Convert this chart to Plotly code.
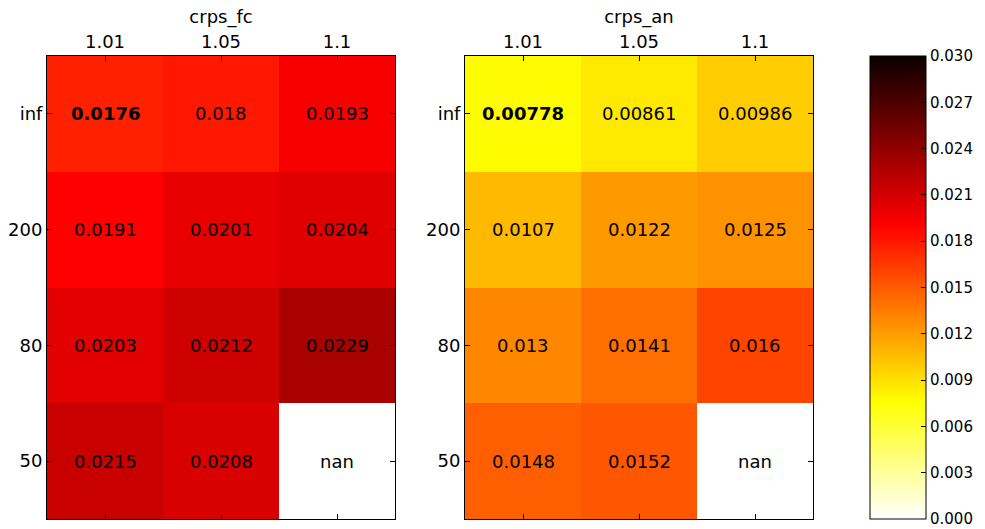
import plotly.graph_objects as go

# Inflation factors (columns) and localisation radii (rows)
inflation = ["1.01", "1.05", "1.1"]
radius = ["inf", "200", "80", "50"]

# CRPS of the forecast and the analysis, one row per localisation radius
crps_fc = [
    [0.0176, 0.0180, 0.0193],
    [0.0191, 0.0201, 0.0204],
    [0.0203, 0.0212, 0.0229],
    [0.0215, 0.0208, None],
]
crps_an = [
    [0.00778, 0.00861, 0.00986],
    [0.0107, 0.0122, 0.0125],
    [0.0130, 0.0141, 0.0160],
    [0.0148, 0.0152, None],
]

W, H = 985, 529
FONT = "DejaVu Sans"

# matplotlib "hot_r": white -> yellow -> red -> near black
hot_r = [
    [0.0, "rgb(255,255,255)"],
    [0.253968, "rgb(255,255,0)"],
    [0.634921, "rgb(255,0,0)"],
    [1.0, "rgb(11,0,0)"],
]

top, bottom = 56, 519
panels = [
    ("crps_fc", crps_fc, (47, 395)),
    ("crps_an", crps_an, (465, 813)),
]

fig = go.Figure()
layout = dict(
    width=W, height=H,
    margin=dict(l=0, r=0, t=0, b=0),
    paper_bgcolor="white", plot_bgcolor="white",
    font=dict(family=FONT, size=18, color="black"),
    showlegend=False,
)
annotations = []

for i, (name, z, (x0, x1)) in enumerate(panels):
    sfx = "" if i == 0 else str(i + 1)
    xa, ya = "x" + sfx, "y" + sfx
    fig.add_trace(go.Heatmap(
        z=z, x=list(range(len(inflation))), y=list(range(len(radius))),
        xaxis=xa, yaxis=ya,
        colorscale=hot_r, zmin=0, zmax=0.03,
        showscale=(i == 0),
        colorbar=dict(
            x=870 / W, xanchor="left", xpad=0,
            y=1 - top / H, yanchor="top", ypad=0,
            len=(bottom - top) / H, lenmode="fraction",
            thickness=56, thicknessmode="pixels",
            outlinecolor="black", outlinewidth=1,
            tick0=0, dtick=0.003, tickformat=".3f",
            ticks="inside", ticklen=5, tickcolor="black",
            tickfont=dict(family=FONT, size=15, color="black"),
        ),
        hoverinfo="skip",
    ))
    layout["xaxis" + sfx] = dict(
        domain=[x0 / W, x1 / W], anchor=ya, side="top",
        range=[-0.5, len(inflation) - 0.5],
        tickvals=list(range(len(inflation))), ticktext=inflation,
        ticks="inside", ticklen=5, tickcolor="black",
        showline=True, linecolor="black", linewidth=1, mirror="ticks",
        showgrid=False, zeroline=False,
        title=dict(text=name, standoff=2, font=dict(size=18)),
        tickfont=dict(size=18),
    )
    layout["yaxis" + sfx] = dict(
        domain=[1 - bottom / H, 1 - top / H], anchor=xa,
        range=[len(radius) - 0.5, -0.5],
        tickvals=list(range(len(radius))), ticktext=radius,
        ticks="inside", ticklen=5, tickcolor="black",
        showline=True, linecolor="black", linewidth=1, mirror="ticks",
        showgrid=False, zeroline=False,
        tickfont=dict(size=18),
    )
    # Cell labels; the smallest score is set in bold
    vals = [v for row in z for v in row if v is not None]
    best = min(vals)
    for r, row in enumerate(z):
        for c, v in enumerate(row):
            txt = "nan" if v is None else "{:.3g}".format(v)
            if v is not None and v == best:
                txt = "<b>" + txt + "</b>"
            annotations.append(dict(
                x=c, y=r, xref=xa, yref=ya, text=txt, showarrow=False,
                font=dict(family=FONT, size=18, color="black"),
            ))

layout["annotations"] = annotations
fig.update_layout(**layout)
fig.write_html("out.html")
